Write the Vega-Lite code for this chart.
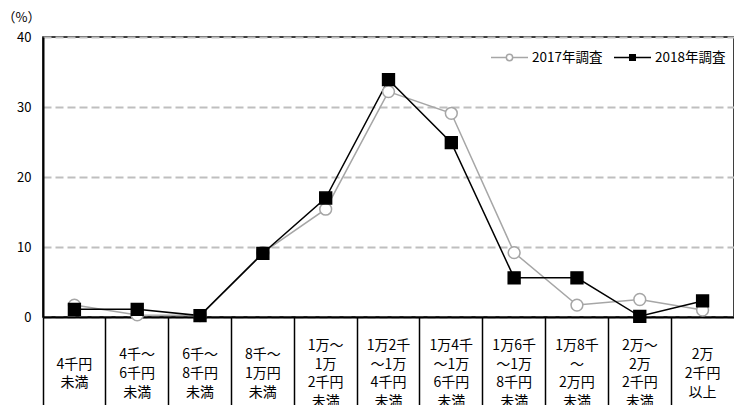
{
  "$schema": "https://vega.github.io/schema/vega-lite/v6.json",
  "width": 691,
  "height": 280,
  "autosize": {"type": "none"},
  "padding": {"left": 43, "top": 37, "right": 0, "bottom": 88},
  "background": "white",
  "config": {"font": "Noto Sans CJK JP", "view": {"stroke": "#000000", "strokeWidth": 1.5}},
  "data": {"values": [
    {"cat": "4千円|未満", "series": "2017年調査", "value": 1.7},
    {"cat": "4千～|6千円|未満", "series": "2017年調査", "value": 0.3},
    {"cat": "6千～|8千円|未満", "series": "2017年調査", "value": 0.2},
    {"cat": "8千～|1万円|未満", "series": "2017年調査", "value": 9.2},
    {"cat": "1万～|1万|2千円|未満", "series": "2017年調査", "value": 15.4},
    {"cat": "1万2千|～1万|4千円|未満", "series": "2017年調査", "value": 32.2},
    {"cat": "1万4千|～1万|6千円|未満", "series": "2017年調査", "value": 29.1},
    {"cat": "1万6千|～1万|8千円|未満", "series": "2017年調査", "value": 9.2},
    {"cat": "1万8千|～|2万円|未満", "series": "2017年調査", "value": 1.7},
    {"cat": "2万～|2万|2千円|未満", "series": "2017年調査", "value": 2.5},
    {"cat": "2万|2千円|以上", "series": "2017年調査", "value": 1.0},
    {"cat": "4千円|未満", "series": "2018年調査", "value": 1.1},
    {"cat": "4千～|6千円|未満", "series": "2018年調査", "value": 1.1},
    {"cat": "6千～|8千円|未満", "series": "2018年調査", "value": 0.2},
    {"cat": "8千～|1万円|未満", "series": "2018年調査", "value": 9.1},
    {"cat": "1万～|1万|2千円|未満", "series": "2018年調査", "value": 17.0},
    {"cat": "1万2千|～1万|4千円|未満", "series": "2018年調査", "value": 33.9},
    {"cat": "1万4千|～1万|6千円|未満", "series": "2018年調査", "value": 24.9},
    {"cat": "1万6千|～1万|8千円|未満", "series": "2018年調査", "value": 5.6},
    {"cat": "1万8千|～|2万円|未満", "series": "2018年調査", "value": 5.6},
    {"cat": "2万～|2万|2千円|未満", "series": "2018年調査", "value": 0.1},
    {"cat": "2万|2千円|以上", "series": "2018年調査", "value": 2.3}
  ]},
  "encoding": {
    "x": {
      "field": "cat", "type": "ordinal", "sort": null, "bandPosition": 0.5,
      "scale": {"type": "band", "paddingInner": 0, "paddingOuter": 0},
      "axis": {
        "title": null,
        "labelExpr": "split(datum.label, '|')",
        "labelAngle": 0, "labelFontSize": 14, "labelLineHeight": 18.7,
        "labelBaseline": "middle", "labelAlign": "center",
        "bandPosition": 0, "tickSize": 88, "tickColor": "#000000", "tickWidth": 1.5,
        "domainColor": "#000000", "domainWidth": 2,
        "labelPadding": {"expr": "-31.5 - (length(split(datum.label, '|')) - 1) * 9.35"},
        "labelColor": "#000000",
        "grid": false, "labelOverlap": false, "labelBound": false
      }
    },
    "y": {
      "field": "value", "type": "quantitative",
      "scale": {"domain": [0, 40]},
      "axis": {
        "values": [0, 10, 20, 30, 40],
        "title": "（%）", "titleAngle": 0, "titleAlign": "left", "titleBaseline": "middle",
        "titleX": -41, "titleY": -20, "titleFontSize": 13, "titleFontWeight": "normal", "titleColor": "#000000",
        "ticks": false, "labelPadding": 12, "labelFontSize": 13, "labelColor": "#000000",
        "domainColor": "#000000", "domainWidth": 2,
        "gridColor": "#bfbfbf", "gridDash": [8, 4], "gridWidth": 2
      }
    }
  },
  "layer": [
    {
      "mark": {"type": "line", "strokeWidth": 1.5},
      "encoding": {
        "color": {
          "field": "series", "type": "nominal",
          "scale": {"domain": ["2017年調査", "2018年調査"], "range": ["#a6a6a6", "#000000"]},
          "legend": {
            "title": null, "orient": "none", "legendX": 447, "legendY": 1,
            "direction": "horizontal",
            "symbolType": "M-1,0H1", "symbolSize": 1369, "symbolStrokeWidth": 1.5,
            "labelFontSize": 13.5, "labelColor": "#000000", "labelOffset": 3, "columnPadding": 8,
            "encode": {
              "symbols": {
                "update": {
                  "shape": {"signal": "datum.value === '2017年調査' ? 'M-1,0H-0.17M0.17,0H1M0.17,0A0.17,0.17 0 1 1 -0.17,0A0.17,0.17 0 1 1 0.17,0Z' : 'M-1,0H-0.15M0.15,0H1M-0.15,-0.15H0.15V0.15H-0.15Z'"},
                  "fill": {"signal": "datum.value === '2017年調査' ? '#ffffff' : '#000000'"}
                }
              }
            }
          }
        }
      }
    },
    {
      "transform": [{"filter": "datum.series === '2017年調査'"}],
      "mark": {"type": "point", "shape": "circle", "size": 140, "strokeWidth": 1.5, "opacity": 1, "fill": "#ffffff", "stroke": "#a6a6a6", "filled": true}
    },
    {
      "transform": [{"filter": "datum.series === '2018年調査'"}],
      "mark": {"type": "point", "shape": "square", "size": 140, "strokeWidth": 1.5, "opacity": 1, "fill": "#000000", "stroke": "#000000", "filled": true}
    }
  ]
}
